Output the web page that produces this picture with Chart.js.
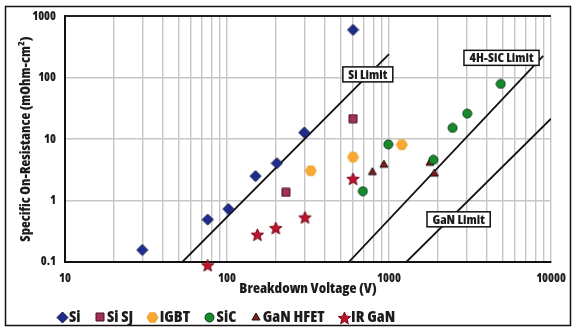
<!DOCTYPE html>
<html lang="en">
<head>
<meta charset="UTF-8">
<title>Specific On-Resistance vs Breakdown Voltage</title>
<script src="https://cdn.jsdelivr.net/npm/chart.js"></script>
<style>
  body { margin: 0; background: #fff; }
  #wrap { width: 577px; height: 334px; }
</style>
</head>
<body>
<div id="wrap"><canvas id="chart" width="577" height="334"></canvas></div>
<script>
// ---- data ----
const siX = [30, 76, 102, 150, 203, 300, 600];
const siY = [0.157, 0.49, 0.73, 2.5, 4.05, 12.8, 600];

const siSjX = [231, 600];
const siSjY = [1.36, 21.5];

const igbtX = [329, 600, 1200];
const igbtY = [3.05, 5.1, 8.1];

const sicX = [690, 990, 1880, 2470, 3040, 4900];
const sicY = [1.42, 8.2, 4.6, 15.2, 26, 79];

const ganHfetX = [790, 930, 1790, 1905];
const ganHfetY = [2.95, 3.9, 4.2, 2.8];

const irGanX = [76, 154, 200, 303, 600];
const irGanY = [0.09, 0.283, 0.363, 0.54, 2.3];

// limit lines (end points)
const siLimitX = [53, 1000];
const siLimitY = [0.1, 241];
const sicLimitX = [565, 8950];
const sicLimitY = [0.1, 226];
const ganLimitX = [1279, 10000];
const ganLimitY = [0.1, 21.5];

// limit labels: text and data-space centre
const limitLabels = ['Si Limit', '4H-SiC Limit', 'GaN Limit'];
const limitLabelX = [740, 4950, 2690];
const limitLabelY = [113, 210, 0.495];

// axes
const xDecades = [10, 100, 1000, 10000];
const yDecades = [0.1, 1, 10, 100, 1000];
const xTitle = 'Breakdown Voltage (V)';
const yTitle = 'Specific On-Resistance (mOhm-cm\u00B2)';

// ---- pick the narrowest bold face we have (reference uses a narrow grotesque) ----
const probe = document.createElement('canvas').getContext('2d');
const faces = [
  { weight: '800 condensed', family: "'Open Sans'" },
  { weight: 'bold', family: "'Liberation Sans Narrow'" },
  { weight: 'bold', family: "'DejaVu Sans Condensed'" }
];
let face = faces[faces.length - 1], best = 1e9;
faces.forEach(f => {
  probe.font = f.weight + ' 14px ' + f.family;
  const w = probe.measureText(xTitle).width;
  if (w < best) { best = w; face = f; }
});
const WEIGHT = face.weight;
const FONT = face.family;
const INK = '#1c1c1c';

function pts(xs, ys) { return xs.map((x, i) => ({ x: x, y: ys[i] })); }

function marker(shape, size, fill, stroke) {
  const c = document.createElement('canvas');
  c.width = c.height = size;
  const g = c.getContext('2d');
  const m = size / 2, r = size / 2 - 1;
  g.beginPath();
  if (shape === 'diamond') {
    g.moveTo(m, m - r); g.lineTo(m + r, m); g.lineTo(m, m + r); g.lineTo(m - r, m);
  } else if (shape === 'square') {
    g.rect(m - r, m - r, 2 * r, 2 * r);
  } else if (shape === 'hex') {
    for (let i = 0; i < 6; i++) {
      const a = i * Math.PI / 3;
      g.lineTo(m + r * Math.cos(a), m + r * Math.sin(a));
    }
  } else if (shape === 'circle') {
    g.arc(m, m, r, 0, Math.PI * 2);
  } else if (shape === 'triangle') {
    g.moveTo(m, m - r); g.lineTo(m + r, m + r * 0.75); g.lineTo(m - r, m + r * 0.75);
  } else if (shape === 'star') {
    for (let i = 0; i < 10; i++) {
      const rr = i % 2 ? r * 0.45 : r;
      const a = -Math.PI / 2 + i * Math.PI / 5;
      g.lineTo(m + rr * Math.cos(a), m + 1 + rr * Math.sin(a));
    }
  }
  g.closePath();
  g.fillStyle = fill;
  g.fill();
  g.lineWidth = 1;
  g.strokeStyle = stroke;
  g.stroke();
  return c;
}

const mSi = marker('diamond', 13, '#1f2b8f', '#0c1240');
const mSiSj = marker('square', 10, '#a3305a', '#4a0f20');
const mIgbt = marker('hex', 13, '#f7a935', '#f2a232');
const mSic = marker('circle', 11, '#178a2e', '#0b3a14');
const mGan = marker('triangle', 10, '#8a1c1c', '#111');
const mIr = marker('star', 15, '#c0122c', '#730a18');

function scatterSet(label, xs, ys, img) {
  return { label: label, data: pts(xs, ys), pointStyle: img, pointRadius: 6, showLine: false, clip: false };
}
function lineSet(label, xs, ys) {
  return { label: label, data: pts(xs, ys), showLine: true, pointRadius: 0, borderColor: '#111', borderWidth: 1.8 };
}

// outer frame
const framePlugin = {
  id: 'frame',
  beforeDraw(chart) {
    const c = chart.ctx;
    c.save();
    c.fillStyle = '#fff';
    c.fillRect(0, 0, chart.width, chart.height);
    c.strokeStyle = '#111';
    c.lineWidth = 1.5;
    c.strokeRect(5.5, 6.5, 565, 319);
    c.restore();
  }
};

// boxed limit labels
const labelPlugin = {
  id: 'limitLabels',
  afterDatasetsDraw(chart) {
    const c = chart.ctx, xs = chart.scales.x, ys = chart.scales.y;
    c.save();
    c.font = WEIGHT + ' 13px ' + FONT;
    c.textAlign = 'center';
    c.textBaseline = 'middle';
    limitLabels.forEach((t, i) => {
      const px = xs.getPixelForValue(limitLabelX[i]);
      const py = ys.getPixelForValue(limitLabelY[i]);
      const w = c.measureText(t).width + 11, h = 15;
      c.fillStyle = '#fff';
      c.fillRect(px - w / 2, py - h / 2, w, h);
      c.strokeStyle = '#111';
      c.lineWidth = 1.5;
      c.strokeRect(px - w / 2, py - h / 2, w, h);
      c.fillStyle = INK;
      c.fillText(t, px, py + 0.5);
    });
    c.restore();
  }
};

// legend row under the chart
const legendPlugin = {
  id: 'legendRow',
  afterDraw(chart) {
    const c = chart.ctx;
    c.save();
    c.font = WEIGHT + ' 16px ' + FONT;
    c.textBaseline = 'middle';
    c.fillStyle = INK;
    let mx = 62;
    const y = 317;
    chart.data.datasets.filter(d => !d.showLine).forEach(d => {
      const img = d.pointStyle;
      c.drawImage(img, Math.round(mx - img.width / 2), Math.round(y - img.height / 2));
      const tx = mx + 7;
      c.fillText(d.label, tx, y);
      mx = tx + c.measureText(d.label).width + 19.5;
    });
    c.restore();
  }
};

const tickFont = { family: FONT, size: 12, weight: WEIGHT };
const titleFont = { family: FONT, size: 14.5, weight: WEIGHT };

const xGrid = [];
xDecades.slice(0, -1).forEach(d => { for (let k = 1; k < 10; k++) xGrid.push(d * k); });
xGrid.push(xDecades[xDecades.length - 1]);

new Chart(document.getElementById('chart'), {
  type: 'scatter',
  data: {
    datasets: [
      scatterSet('Si', siX, siY, mSi),
      scatterSet('Si SJ', siSjX, siSjY, mSiSj),
      scatterSet('IGBT', igbtX, igbtY, mIgbt),
      scatterSet('SiC', sicX, sicY, mSic),
      scatterSet('GaN HFET', ganHfetX, ganHfetY, mGan),
      scatterSet('IR GaN', irGanX, irGanY, mIr),
      lineSet('Si Limit', siLimitX, siLimitY),
      lineSet('4H-SiC Limit', sicLimitX, sicLimitY),
      lineSet('GaN Limit', ganLimitX, ganLimitY)
    ]
  },
  options: {
    responsive: false,
    animation: false,
    layout: { padding: { left: 10, right: 26, top: 13, bottom: 34 } },
    plugins: { legend: { display: false }, tooltip: { enabled: false } },
    scales: {
      x: {
        type: 'logarithmic',
        min: 10, max: 10000,
        afterBuildTicks: s => { s.ticks = xGrid.map(v => ({ value: v })); },
        afterFit: s => { s.height = 38; },
        ticks: {
          autoSkip: false, maxRotation: 0, padding: 9,
          color: INK, font: tickFont,
          callback: v => xDecades.includes(v) ? String(v) : ''
        },
        grid: { color: '#c6c6c6', lineWidth: 1.4, drawTicks: false },
        border: { color: '#111', width: 2 },
        title: { display: true, text: xTitle, color: INK, font: titleFont, padding: { top: 0, bottom: 2 } }
      },
      y: {
        type: 'logarithmic',
        min: 0.1, max: 1000,
        afterBuildTicks: s => { s.ticks = yDecades.map(v => ({ value: v })); },
        afterFit: s => { s.width = 55; },
        ticks: {
          padding: 9, color: INK, font: tickFont,
          callback: v => String(v)
        },
        grid: {
          drawTicks: false,
          color: c => c.tick && c.tick.value === 1000 ? '#222' : '#c6c6c6',
          lineWidth: c => c.tick && c.tick.value === 1000 ? 2 : 1.4
        },
        border: { color: '#111', width: 2 },
        title: { display: true, text: yTitle, color: INK, font: { family: FONT, size: 14, weight: WEIGHT }, padding: { top: 8, bottom: 0 } }
      }
    }
  },
  plugins: [framePlugin, labelPlugin, legendPlugin]
});
</script>
</body>
</html>
